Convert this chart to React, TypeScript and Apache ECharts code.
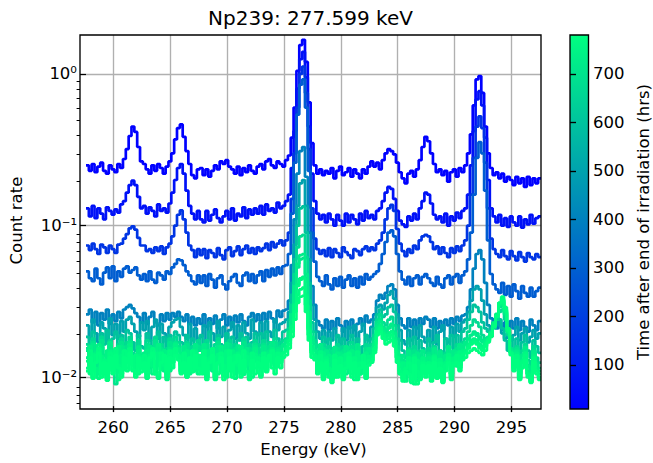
import React, { useEffect, useRef } from 'react';
import * as echarts from 'echarts';

// Energy binning of the spectra (keV): first bin edge and bin width
const E_START = 257.6;
const BIN_WIDTH = 0.25;

// Colour-bar range (hrs after end of irradiation)
const T_MIN = 9.3;
const T_MAX = 780;

// Count rate × 10⁴, one value per 0.25 keV bin, 257.6 → 297.6 keV
const S1 = [
  2500, 2300, 2550, 2250, 2450, 2600, 2300, 2200, 2500, 2350, 2250, 2550, 2400, 2750, 3200, 3900, 4500, 4150, 3300, 2650,
  2550, 2350, 2200, 2500, 2300, 2550, 2400, 2200, 2450, 2650, 3000, 3700, 4400, 4650, 3850, 3100, 2550, 2150, 2050, 2350,
  2400, 2150, 2350, 2100, 2300, 2500, 2350, 2650, 2550, 2700, 2450, 2350, 2200, 2450, 2150, 2400, 2250, 2500, 2300, 2200,
  2450, 2550, 2350, 2650, 2750, 2500, 2400, 2650, 2550, 2450, 2700, 2900, 3800, 6000, 10500, 15500, 16800, 12000, 6500, 3500,
  2500, 2200, 2350, 2150, 2300, 2200, 2400, 2050, 2300, 2450, 2150, 2250, 2400, 2100, 2350, 2200, 2050, 2350, 2200, 2450,
  2650, 2450, 2600, 2350, 2700, 3000, 3200, 3100, 2950, 2600, 2250, 2050, 1900, 2200, 2300, 2100, 2350, 2700, 3300, 3850,
  3600, 3000, 2550, 2250, 2350, 2150, 2300, 1950, 2250, 2350, 2100, 2400, 2250, 2500, 3000, 4000, 6200, 9200, 9700, 7500,
  4500, 3000, 2400, 2150, 2250, 2050, 2200, 1950, 2100, 2000, 1850, 2100, 1900, 2050, 1800, 2100, 1850, 2050, 1900, 2050,
];
const S2 = [
  1300, 1150, 1350, 1120, 1300, 1200, 1100, 1320, 1250, 1180, 1280, 1220, 1380, 1450, 1650, 1850, 1980, 1850, 1550, 1300,
  1350, 1200, 1320, 1250, 1150, 1380, 1250, 1300, 1220, 1400, 1650, 2000, 2400, 2550, 2200, 1700, 1350, 1200, 1100, 1250,
  1100, 1050, 1250, 1080, 1180, 1280, 1120, 1050, 1150, 1250, 1100, 1300, 1080, 1200, 1150, 1320, 1120, 1280, 1180, 1300,
  1200, 1350, 1180, 1380, 1250, 1300, 1220, 1420, 1300, 1350, 1450, 1600, 2400, 4200, 8000, 12500, 14000, 9500, 4500, 2200,
  1450, 1200, 1100, 1180, 1050, 1200, 1100, 1000, 1180, 1080, 1000, 1200, 1050, 1180, 1100, 1020, 1200, 1080, 1250, 1120,
  1180, 1100, 1250, 1300, 1450, 1650, 1800, 1750, 1500, 1250, 1080, 1020, 980, 1150, 1080, 1200, 1100, 1300, 1450, 1650,
  1600, 1400, 1180, 1100, 1150, 1050, 1200, 1000, 1150, 1080, 1220, 1120, 1250, 1300, 1600, 2500, 4200, 6800, 7700, 6200,
  3800, 2000, 1300, 1150, 1050, 1180, 1000, 1120, 980, 1150, 1050, 1000, 1150, 970, 1100, 1020, 1180, 1030, 1120, 1150,
];
const S3 = [
  740, 690, 760, 700, 650, 750, 720, 660, 740, 700, 660, 750, 760, 820, 880, 960, 990, 940, 830, 740,
  740, 680, 700, 660, 720, 680, 730, 650, 720, 760, 850, 1000, 1180, 1260, 1100, 900, 740, 690, 620, 700,
  640, 700, 610, 690, 660, 620, 710, 640, 600, 690, 720, 630, 680, 730, 640, 700, 740, 660, 710, 650,
  720, 680, 710, 760, 690, 780, 720, 760, 800, 740, 800, 900, 1500, 3000, 6000, 10000, 11200, 7500, 3200, 1300,
  820, 700, 650, 690, 630, 710, 620, 700, 660, 620, 720, 670, 640, 610, 700, 680, 640, 700, 730, 680,
  720, 690, 760, 800, 900, 1100, 1300, 1370, 1250, 950, 760, 680, 630, 700, 660, 740, 700, 800, 850, 870,
  850, 780, 700, 730, 650, 720, 660, 620, 710, 660, 730, 680, 740, 800, 1000, 1600, 2800, 4500, 5250, 4400,
  2600, 1300, 820, 700, 650, 620, 690, 630, 600, 680, 630, 590, 670, 620, 580, 660, 620, 600, 650, 620,
];
const S4 = [
  500, 450, 430, 520, 450, 410, 490, 530, 450, 540, 430, 500, 460, 520, 540, 490, 510, 530, 470, 440,
  480, 430, 500, 440, 420, 490, 470, 440, 500, 480, 530, 560, 600, 590, 550, 500, 470, 430, 410, 470,
  420, 470, 400, 480, 440, 390, 450, 470, 410, 380, 430, 460, 480, 420, 400, 470, 490, 430, 480, 420,
  470, 500, 430, 510, 460, 520, 470, 530, 480, 540, 550, 650, 1200, 2600, 5400, 8500, 9200, 6000, 2300, 900,
  580, 460, 430, 400, 470, 410, 380, 450, 400, 460, 390, 440, 470, 400, 450, 390, 460, 410, 480, 440,
  460, 480, 500, 560, 650, 780, 900, 930, 850, 650, 500, 440, 410, 460, 400, 450, 470, 410, 460, 480,
  450, 420, 400, 460, 410, 390, 450, 470, 410, 460, 480, 420, 470, 500, 600, 900, 1600, 2800, 3550, 3000,
  1700, 800, 480, 410, 380, 360, 420, 350, 400, 340, 410, 370, 330, 400, 360, 340, 390, 340, 370, 390,
];
const S5 = [
  260, 280, 230, 270, 220, 265, 240, 280, 225, 260, 235, 270, 245, 280, 290, 300, 285, 265, 250, 230,
  265, 225, 250, 270, 230, 220, 260, 235, 265, 240, 265, 250, 270, 250, 235, 260, 225, 250, 220, 245,
  225, 260, 215, 245, 225, 255, 210, 240, 260, 220, 250, 215, 255, 230, 260, 235, 220, 250, 265, 235,
  260, 235, 265, 240, 270, 245, 230, 275, 250, 275, 280, 320, 550, 1100, 2200, 3100, 3300, 2100, 900, 400,
  300, 235, 220, 210, 240, 205, 235, 210, 245, 220, 200, 235, 210, 240, 205, 225, 245, 220, 255, 230,
  240, 260, 320, 350, 330, 360, 400, 410, 380, 300, 245, 220, 210, 245, 215, 240, 210, 245, 225, 250,
  240, 215, 245, 210, 235, 205, 240, 220, 245, 225, 250, 235, 255, 260, 290, 380, 520, 650, 690, 600,
  420, 300, 245, 220, 210, 240, 205, 230, 200, 235, 210, 245, 205, 235, 215, 200, 240, 220, 205, 235,
];
const S6 = [
  220, 180, 240, 195, 170, 230, 210, 175, 245, 190, 225, 180, 235, 200, 240, 250, 225, 200, 185, 230,
  205, 235, 175, 215, 240, 180, 225, 195, 170, 215, 230, 240, 245, 215, 190, 180, 225, 175, 210, 170,
  185, 220, 170, 230, 195, 175, 235, 185, 215, 170, 205, 230, 180, 220, 175, 230, 195, 180, 240, 200,
  190, 230, 180, 235, 200, 185, 240, 205, 225, 230, 240, 270, 420, 750, 1350, 1900, 2000, 1350, 600, 300,
  240, 200, 180, 205, 170, 200, 175, 210, 185, 165, 210, 175, 215, 185, 220, 170, 200, 225, 190, 175,
  215, 240, 290, 300, 280, 310, 350, 370, 330, 260, 205, 175, 165, 205, 175, 215, 180, 220, 185, 170,
  205, 170, 215, 165, 200, 220, 180, 170, 215, 185, 225, 200, 230, 240, 270, 320, 380, 400, 380, 320,
  260, 220, 200, 215, 235, 220, 195, 180, 200, 175, 190, 215, 175, 195, 210, 170, 185, 205, 180, 195,
];
const S7 = [
  185, 145, 200, 155, 135, 195, 165, 205, 150, 180, 200, 150, 190, 165, 205, 195, 170, 150, 190, 160,
  155, 195, 175, 140, 180, 200, 150, 185, 145, 190, 165, 200, 190, 170, 150, 190, 140, 180, 165, 150,
  190, 145, 175, 200, 155, 140, 190, 165, 145, 195, 155, 185, 140, 175, 195, 150, 185, 145, 170, 195,
  160, 195, 150, 200, 170, 155, 205, 180, 165, 200, 205, 240, 350, 600, 1000, 1300, 1340, 900, 420, 230,
  200, 160, 145, 185, 140, 180, 155, 135, 190, 150, 180, 140, 170, 190, 145, 180, 140, 160, 190, 155,
  180, 210, 260, 280, 250, 260, 290, 300, 270, 220, 175, 150, 135, 180, 145, 185, 140, 175, 155, 145,
  180, 140, 170, 190, 150, 135, 180, 155, 190, 150, 190, 165, 200, 210, 240, 270, 300, 290, 270, 230,
  210, 200, 210, 230, 250, 240, 210, 175, 150, 185, 145, 180, 140, 170, 190, 150, 135, 175, 160, 145,
];
const S8 = [
  165, 130, 180, 120, 155, 185, 140, 125, 175, 150, 115, 165, 180, 130, 170, 185, 145, 135, 175, 140,
  135, 175, 125, 160, 185, 135, 165, 120, 155, 180, 150, 185, 170, 145, 130, 170, 125, 160, 135, 175,
  160, 125, 175, 140, 120, 165, 180, 130, 160, 125, 175, 135, 165, 120, 155, 180, 130, 165, 140, 175,
  165, 130, 175, 145, 170, 135, 180, 150, 170, 175, 180, 210, 300, 480, 720, 850, 870, 620, 320, 200,
  175, 140, 130, 165, 125, 160, 135, 120, 165, 130, 160, 125, 150, 170, 130, 160, 125, 140, 165, 145,
  165, 190, 240, 260, 230, 220, 240, 250, 220, 180, 140, 130, 115, 155, 125, 160, 120, 150, 135, 125,
  155, 120, 160, 125, 150, 115, 145, 160, 125, 150, 165, 140, 170, 180, 200, 220, 240, 230, 215, 190,
  180, 175, 190, 210, 240, 270, 280, 240, 190, 155, 135, 160, 125, 150, 165, 130, 120, 160, 135, 125,
];
const S9 = [
  155, 120, 170, 110, 145, 175, 125, 115, 160, 135, 90, 155, 170, 120, 160, 170, 130, 125, 160, 115,
  125, 165, 115, 150, 175, 120, 155, 110, 145, 170, 140, 170, 160, 130, 120, 165, 115, 150, 125, 160,
  150, 115, 165, 125, 110, 155, 170, 120, 150, 115, 165, 125, 155, 110, 145, 170, 120, 155, 125, 165,
  155, 120, 165, 135, 160, 125, 170, 140, 160, 160, 170, 190, 250, 380, 530, 600, 610, 450, 260, 180,
  165, 130, 120, 155, 115, 150, 125, 110, 155, 120, 150, 115, 140, 160, 120, 150, 115, 130, 155, 135,
  150, 180, 230, 240, 215, 200, 210, 220, 200, 160, 130, 115, 105, 145, 115, 150, 95, 140, 125, 115,
  145, 110, 150, 115, 140, 105, 135, 150, 115, 140, 155, 130, 160, 165, 180, 190, 200, 195, 185, 175,
  180, 185, 200, 230, 260, 290, 300, 260, 200, 155, 130, 155, 115, 140, 155, 120, 110, 150, 125, 115,
];
const S10 = [
  150, 118, 165, 128, 105, 158, 140, 112, 170, 130, 148, 108, 160, 125, 150, 172, 135, 120, 158, 130,
  145, 110, 160, 130, 118, 165, 125, 150, 108, 155, 140, 168, 150, 122, 160, 115, 148, 125, 165, 118,
  130, 165, 112, 150, 128, 108, 160, 140, 115, 168, 125, 150, 110, 162, 130, 118, 155, 135, 112, 160,
  140, 115, 160, 125, 150, 170, 130, 155, 145, 165, 175, 200, 260, 400, 560, 640, 650, 480, 270, 185,
  150, 125, 165, 115, 150, 130, 108, 158, 120, 145, 112, 160, 128, 150, 108, 165, 120, 140, 112, 155,
  145, 170, 220, 235, 210, 195, 215, 225, 195, 150, 118, 140, 105, 150, 120, 98, 145, 112, 150, 120,
  140, 112, 155, 120, 148, 105, 140, 160, 118, 150, 130, 165, 150, 170, 178, 190, 195, 188, 178, 170,
  175, 182, 198, 228, 262, 300, 315, 265, 198, 150, 125, 150, 108, 140, 158, 118, 105, 148, 122, 110,
];
const S11 = [
  135, 160, 110, 145, 165, 115, 105, 150, 125, 110, 145, 160, 115, 150, 125, 165, 130, 115, 150, 120,
  115, 150, 125, 105, 145, 165, 115, 150, 125, 110, 150, 165, 155, 120, 115, 150, 105, 135, 150, 115,
  140, 105, 150, 115, 145, 100, 135, 160, 110, 145, 115, 150, 105, 135, 160, 115, 145, 110, 135, 155,
  125, 140, 115, 145, 130, 155, 120, 150, 135, 145, 160, 175, 220, 300, 410, 450, 460, 350, 210, 160,
  150, 120, 110, 145, 105, 140, 115, 100, 145, 110, 140, 105, 130, 150, 110, 140, 105, 120, 145, 125,
  140, 165, 210, 220, 200, 185, 195, 200, 180, 145, 120, 105, 100, 135, 105, 140, 115, 100, 130, 105,
  135, 100, 140, 105, 130, 98, 125, 140, 105, 130, 145, 120, 150, 150, 165, 175, 180, 175, 165, 160,
  170, 180, 195, 225, 260, 300, 320, 270, 200, 145, 120, 145, 105, 130, 145, 110, 100, 140, 115, 105,
];
const S12 = [
  128, 105, 142, 115, 98, 138, 120, 100, 150, 118, 130, 96, 140, 112, 135, 150, 120, 105, 140, 115,
  130, 98, 140, 118, 105, 145, 112, 135, 96, 138, 125, 150, 135, 108, 142, 100, 130, 112, 148, 105,
  118, 148, 100, 135, 112, 96, 142, 125, 102, 150, 110, 135, 98, 145, 118, 104, 138, 120, 100, 142,
  125, 102, 140, 112, 135, 150, 118, 138, 128, 145, 155, 175, 215, 300, 400, 440, 450, 340, 205, 150,
  135, 110, 148, 102, 135, 115, 96, 140, 106, 130, 98, 142, 112, 135, 96, 148, 105, 125, 98, 138,
  128, 150, 200, 215, 195, 180, 190, 200, 175, 135, 105, 125, 94, 135, 108, 90, 130, 100, 135, 106,
  125, 100, 138, 106, 132, 94, 125, 142, 105, 135, 118, 148, 135, 150, 160, 170, 175, 170, 160, 155,
  165, 178, 195, 225, 258, 305, 325, 275, 205, 145, 115, 138, 98, 128, 145, 105, 94, 135, 110, 100,
];
const S13 = [
  115, 150, 100, 140, 155, 105, 130, 98, 145, 110, 155, 120, 105, 150, 115, 155, 110, 140, 105, 130,
  140, 105, 130, 155, 110, 100, 145, 120, 105, 150, 125, 155, 140, 110, 145, 105, 130, 150, 110, 140,
  110, 150, 100, 130, 155, 110, 105, 145, 120, 100, 150, 110, 140, 120, 105, 150, 110, 100, 145, 115,
  135, 120, 145, 110, 135, 150, 115, 145, 125, 145, 150, 165, 200, 270, 350, 380, 390, 300, 190, 145,
  140, 110, 140, 100, 130, 115, 98, 140, 105, 135, 100, 125, 145, 105, 135, 100, 125, 140, 105, 130,
  130, 155, 200, 210, 190, 175, 180, 190, 170, 135, 110, 98, 115, 125, 92, 135, 110, 98, 125, 105,
  125, 98, 135, 100, 125, 95, 120, 135, 100, 125, 140, 115, 140, 145, 155, 165, 170, 165, 155, 150,
  160, 175, 190, 220, 255, 310, 330, 280, 205, 145, 115, 140, 100, 125, 140, 105, 96, 135, 110, 100,
];
const S14 = [
  110, 135, 98, 125, 145, 100, 125, 95, 135, 105, 140, 115, 100, 135, 110, 145, 112, 100, 135, 108,
  125, 100, 135, 145, 105, 98, 125, 140, 100, 135, 115, 140, 130, 105, 125, 100, 135, 108, 140, 115,
  105, 135, 96, 125, 140, 100, 125, 135, 96, 110, 135, 100, 125, 140, 100, 130, 108, 96, 130, 105,
  125, 100, 135, 108, 140, 115, 105, 135, 115, 135, 140, 155, 185, 240, 310, 340, 345, 270, 175, 135,
  130, 105, 125, 96, 125, 100, 92, 130, 100, 120, 96, 115, 135, 100, 125, 96, 115, 125, 100, 120,
  125, 145, 190, 200, 180, 165, 170, 175, 160, 125, 105, 94, 110, 105, 96, 120, 90, 96, 120, 100,
  120, 94, 125, 98, 115, 92, 110, 125, 96, 120, 125, 110, 130, 135, 145, 150, 155, 150, 145, 140,
  150, 170, 185, 215, 250, 310, 340, 290, 210, 140, 110, 130, 96, 115, 130, 100, 92, 125, 105, 96,
];
const SPECTRA = [S1, S2, S3, S4, S5, S6, S7, S8, S9, S10, S11, S12, S13, S14];
// Time after end of irradiation (hrs) of each spectrum above
const TIMES = [12, 60, 170, 290, 400, 500, 600, 670, 705, 725, 745, 760, 770, 780];
const VALUE_SCALE = 1e4;

// Axes
const X_MIN = 257.6;
const X_MAX = 297.6;
const Y_MIN = 0.00646;
const Y_MAX = 1.807;
const X_TICKS = [260, 265, 270, 275, 280, 285, 290, 295];
const Y_TICKS = [0.01, 0.1, 1];
const Y_MINOR = [0.007, 0.008, 0.009, 0.02, 0.03, 0.04, 0.05, 0.06, 0.07, 0.08, 0.09, 0.2, 0.3, 0.4, 0.5, 0.6, 0.7, 0.8, 0.9];
const CB_TICKS = [100, 200, 300, 400, 500, 600, 700];

const TITLE = 'Np239: 277.599 keV';
const X_NAME = 'Energy (keV)';
const Y_NAME = 'Count rate';
const CB_NAME = 'Time after end of irradiation (hrs)';

const FONT = 'DejaVu Sans';
const GRID = { left: 80, top: 35, width: 461, height: 374 };
const CB_GRID = { left: 570, top: 35, width: 18.5, height: 374 };

function winter(t: number): string {
  const c = Math.max(0, Math.min(1, t));
  return `rgb(0, ${Math.round(255 * c)}, ${Math.round(255 * (1 - 0.5 * c))})`;
}

const SUP: Record<string, string> = { '-': '⁻', '0': '⁰', '1': '¹', '2': '²', '3': '³' };
function powLabel(v: number): string {
  const e = Math.round(Math.log10(v));
  return '10' + String(e).split('').map((c) => SUP[c] || c).join('');
}

function buildSeries() {
  return SPECTRA.map((vals, k) => {
    const data: number[][] = [[E_START, vals[0] / VALUE_SCALE]];
    vals.forEach((v, i) => {
      data.push([E_START + BIN_WIDTH * (i + 1), v / VALUE_SCALE]);
    });
    const col = winter((TIMES[k] - T_MIN) / (T_MAX - T_MIN));
    return {
      type: 'line',
      name: `t=${TIMES[k]}`,
      xAxisIndex: 0,
      yAxisIndex: 0,
      data,
      step: 'start',
      symbol: 'none',
      showSymbol: false,
      clip: true,
      silent: true,
      lineStyle: { color: col, width: 2.7 },
      itemStyle: { color: col },
    };
  });
}

export default function App() {
  const ref = useRef<HTMLDivElement>(null);
  useEffect(() => {
    if (!ref.current) return;
    const chart = echarts.init(ref.current, null, { renderer: 'svg' });
    const textBase = { color: '#000', fontFamily: FONT, fontSize: 16.5 };
    chart.setOption({
      animation: false,
      backgroundColor: '#fff',
      grid: [
        { ...GRID, containLabel: false },
        { ...CB_GRID, containLabel: false },
        { ...GRID, containLabel: false },
      ],
      xAxis: [
        {
          type: 'value',
          gridIndex: 0,
          min: X_MIN,
          max: X_MAX,
          splitNumber: 8,
          axisLine: { show: false },
          axisTick: { show: true, length: 6, customValues: X_TICKS, lineStyle: { color: '#000', width: 1.35 } },
          axisLabel: { customValues: X_TICKS, margin: 13, ...textBase },
          splitLine: { show: true, lineStyle: { color: '#b0b0b0', width: 1.35 } },
          name: X_NAME,
          nameLocation: 'middle',
          nameGap: 34,
          nameTextStyle: textBase,
        },
        { type: 'value', gridIndex: 1, min: 0, max: 1, show: false },
        { type: 'value', gridIndex: 2, min: X_MIN, max: X_MAX, show: false },
      ],
      yAxis: [
        {
          type: 'log',
          logBase: 10,
          gridIndex: 0,
          min: Y_MIN,
          max: Y_MAX,
          axisLine: { show: false },
          axisTick: { show: true, length: 6, customValues: Y_TICKS, lineStyle: { color: '#000', width: 1.35 } },
          axisLabel: { customValues: Y_TICKS, margin: 9, formatter: (v: number) => powLabel(v), ...textBase },
          splitLine: { show: true, lineStyle: { color: '#b0b0b0', width: 1.35 } },
          minorTick: { show: false },
          name: Y_NAME,
          nameLocation: 'middle',
          nameGap: 61,
          nameTextStyle: textBase,
        },
        {
          type: 'value',
          gridIndex: 1,
          position: 'right',
          min: T_MIN,
          max: T_MAX,
          axisLine: { show: false },
          axisTick: { show: true, length: 6, customValues: CB_TICKS, lineStyle: { color: '#000', width: 1.35 } },
          axisLabel: { customValues: CB_TICKS, margin: 12, ...textBase },
          splitLine: { show: false },
          name: CB_NAME,
          nameLocation: 'middle',
          nameRotate: 90,
          nameGap: 54,
          nameTextStyle: textBase,
        },
        {
          type: 'log',
          logBase: 10,
          gridIndex: 2,
          min: Y_MIN,
          max: Y_MAX,
          axisLine: { show: false },
          axisTick: { show: true, length: 3.4, customValues: Y_MINOR, lineStyle: { color: '#000', width: 1 } },
          axisLabel: { show: false },
          splitLine: { show: false },
        },
      ],
      series: buildSeries(),
      graphic: [
        {
          type: 'rect',
          silent: true,
          z: 0,
          shape: { x: CB_GRID.left, y: CB_GRID.top, width: CB_GRID.width, height: CB_GRID.height },
          style: {
            fill: new echarts.graphic.LinearGradient(0, 0, 0, 1, [
              { offset: 0, color: winter(1) },
              { offset: 1, color: winter(0) },
            ]),
            stroke: '#000',
            lineWidth: 1.35,
          },
        },
        {
          type: 'rect',
          silent: true,
          z: 100,
          shape: { x: GRID.left, y: GRID.top, width: GRID.width, height: GRID.height },
          style: { fill: 'none', stroke: '#000', lineWidth: 1.35 },
        },
        {
          type: 'text',
          silent: true,
          x: GRID.left + GRID.width / 2,
          y: 17.5,
          style: {
            text: TITLE,
            fill: '#000',
            font: `20px "${FONT}"`,
            textAlign: 'center',
            textVerticalAlign: 'middle',
          },
        },
      ],
    });
    return () => chart.dispose();
  }, []);
  return (
    <div
      ref={ref}
      style={{ position: 'fixed', left: 0, top: 0, width: 653, height: 463, background: '#fff' }}
    />
  );
}
